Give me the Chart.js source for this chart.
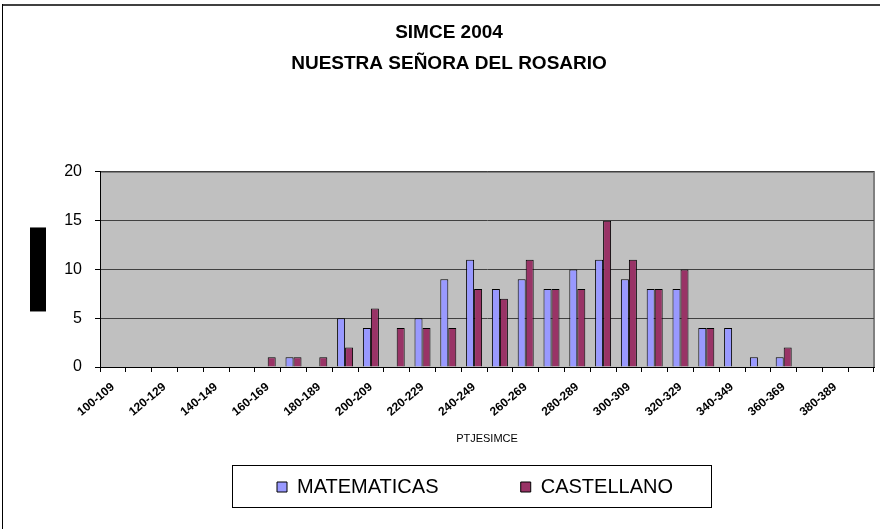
<!DOCTYPE html>
<html>
<head>
<meta charset="utf-8">
<script src="https://cdn.jsdelivr.net/npm/chart.js@4.4.1/dist/chart.umd.min.js"></script>
<style>
  html, body { margin: 0; padding: 0; background: #fff; }
  #wrap { width: 880px; height: 529px; }
</style>
</head>
<body>
<div id="wrap"><canvas id="simceChart"></canvas></div>
<script>
const categories = [
  '100-109', '110-119', '120-129', '130-139', '140-149', '150-159',
  '160-169', '170-179', '180-189', '190-199', '200-209', '210-219',
  '220-229', '230-239', '240-249', '250-259', '260-269', '270-279',
  '280-289', '290-299', '300-309', '310-319', '320-329', '330-339',
  '340-349', '350-359', '360-369', '370-379', '380-389', '390-399'
];
const matematicas = [0, 0, 0, 0, 0, 0, 0, 1, 0, 5, 4, 0, 5, 9, 11, 8, 9, 8, 10, 11, 9, 8, 8, 4, 4, 1, 1, 0, 0, 0];
const castellano  = [0, 0, 0, 0, 0, 0, 1, 1, 1, 2, 6, 4, 4, 4, 8, 7, 11, 8, 8, 15, 11, 8, 10, 4, 0, 0, 2, 0, 0, 0];
const yTicks = [0, 5, 10, 15, 20];

const titleLines = ['SIMCE 2004', 'NUESTRA SEÑORA DEL ROSARIO'];
const xTitle = 'PTJESIMCE';
const yTitle = 'ALUMNOS';

const FONT = "'Liberation Sans', Arial, sans-serif";

// frame, grey plot background, the black y-title block and the legend box
const framePlugin = {
  id: 'frame',
  afterLayout(chart) {
    // nudge title and legend so they sit where the original had them
    chart.titleBlock.left += 12; chart.titleBlock.right += 12;
    chart.legend.left += 38; chart.legend.right += 38;
  },
  beforeDraw(chart) {
    const { ctx, chartArea: a } = chart;
    ctx.save();
    ctx.fillStyle = '#fff';
    ctx.fillRect(0, 0, chart.width, chart.height);
    ctx.fillStyle = '#c0c0c0';
    ctx.fillRect(a.left, a.top, a.right - a.left, a.bottom - a.top);
    ctx.strokeStyle = '#808080';
    ctx.lineWidth = 2;
    ctx.beginPath();
    ctx.moveTo(a.left, a.top);
    ctx.lineTo(a.right, a.top);
    ctx.lineTo(a.right, a.bottom);
    ctx.stroke();

    // y title renders as a solid black block in the original
    const yScale = chart.scales.y;
    const cx = yScale.left + 30 + 8;
    const cy = (a.top + a.bottom) / 2;
    ctx.fillStyle = '#000';
    ctx.fillRect(cx - 8, cy - 42, 16, 84);

    // outer chart border (top and left visible)
    ctx.fillStyle = '#404040';
    ctx.fillRect(2, 4, chart.width - 2, 2);
    ctx.fillStyle = '#000';
    ctx.fillRect(2, 4, 1, chart.height - 4);
    ctx.restore();
  },
  afterDraw(chart) {
    const boxes = chart.legend.legendHitBoxes;
    if (!boxes || !boxes.length) return;
    const { ctx } = chart;
    const left = Math.min(...boxes.map(b => b.left)) - 45;
    const right = Math.max(...boxes.map(b => b.left + b.width)) + 38;
    const cy = boxes[0].top + boxes[0].height / 2;
    ctx.save();
    ctx.strokeStyle = '#000';
    ctx.lineWidth = 1;
    ctx.strokeRect(Math.round(left) + 0.5, Math.round(cy - 22) + 0.5, Math.round(right - left), 42);
    ctx.restore();
  }
};

new Chart(document.getElementById('simceChart'), {
  type: 'bar',
  data: {
    labels: categories,
    datasets: [
      {
        label: 'MATEMATICAS',
        data: matematicas,
        backgroundColor: '#9999ff',
        borderColor: '#000',
        borderWidth: 1
      },
      {
        label: 'CASTELLANO',
        data: castellano,
        backgroundColor: '#993366',
        borderColor: '#000',
        borderWidth: 1
      }
    ]
  },
  options: {
    responsive: true,
    maintainAspectRatio: false,
    animation: false,
    categoryPercentage: 0.62,
    barPercentage: 1,
    layout: { padding: { left: 0, right: 6, top: 0, bottom: 22 } },
    plugins: {
      title: {
        display: true,
        text: titleLines,
        color: '#000',
        font: { family: FONT, size: 19, weight: 'bold', lineHeight: 1.63 },
        padding: { top: 17, bottom: 93 }
      },
      legend: {
        position: 'bottom',
        labels: {
          color: '#000',
          font: { family: FONT, size: 20 },
          boxWidth: 10,
          boxHeight: 10,
          padding: 10,
          generateLabels(chart) {
            const items = Chart.defaults.plugins.legend.labels.generateLabels(chart);
            items.forEach((it, i) => {
              if (i < items.length - 1) it.text += ' '.repeat(13);
            });
            return items;
          }
        }
      },
      tooltip: { enabled: false }
    },
    scales: {
      x: {
        afterFit(scale) { scale.height = 100; },
        grid: {
          offset: true,
          drawOnChartArea: false,
          drawTicks: true,
          tickLength: 5,
          color: '#000'
        },
        border: { color: '#000', width: 1 },
        ticks: {
          autoSkip: false,
          maxRotation: 40,
          minRotation: 40,
          padding: 8,
          color: '#000',
          font: { family: FONT, size: 12, weight: 'bold' },
          callback(value, index) {
            return index % 2 === 0 ? categories[index] : '';
          }
        },
        title: {
          display: true,
          text: xTitle,
          color: '#000',
          font: { family: FONT, size: 11 },
          padding: { top: 0, bottom: 21 }
        }
      },
      y: {
        min: 0,
        max: 20,
        afterFit(scale) { scale.width = 100; },
        afterBuildTicks(scale) { scale.ticks = yTicks.map(v => ({ value: v })); },
        grid: {
          color: '#404040',
          tickLength: 5,
          tickColor: '#000'
        },
        border: { color: '#000', width: 1 },
        ticks: {
          padding: 13,
          color: '#000',
          font: { family: FONT, size: 16 }
        },
        title: {
          display: true,
          text: yTitle,
          color: '#000',
          font: { family: FONT, size: 13, weight: 'bold' },
          padding: { top: 30, bottom: 0 }
        }
      }
    }
  },
  plugins: [framePlugin]
});
</script>
</body>
</html>
